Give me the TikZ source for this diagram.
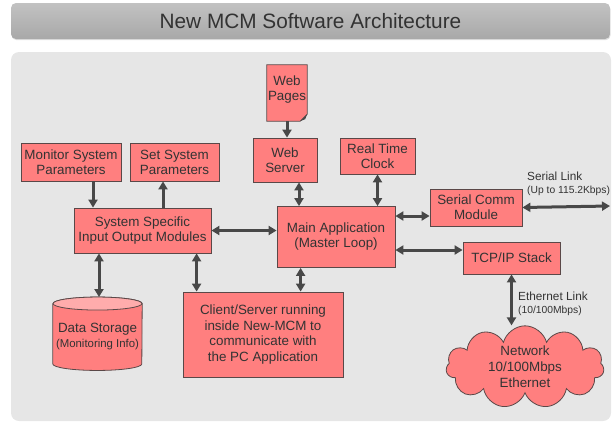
\documentclass[tikz,border=0pt]{standalone}
\usepackage{fontspec}
\setmainfont{Liberation Sans}
\usetikzlibrary{arrows.meta,shapes.symbols,shadows}

\definecolor{boxred}{HTML}{FF7F7F}
\definecolor{boxline}{HTML}{5A4848}
\definecolor{arrowgray}{HTML}{484848}
\definecolor{panelgray}{HTML}{E6E6E6}
\definecolor{textgray}{HTML}{333333}

\tikzset{
  block/.style={draw=boxline, fill=boxred, line width=0.8pt, align=center,
    text=textgray, font=\fontsize{13.4}{15}\selectfont, inner sep=0pt},
  blocktext/.style={align=center, inner sep=0pt, text=textgray, font=\fontsize{13.4}{15}\selectfont},
  link/.style={draw=arrowgray, line width=3pt,
    {Triangle[length=8pt,width=9pt]}-{Triangle[length=8pt,width=9pt]}},
  oneway/.style={draw=arrowgray, line width=3pt, -{Triangle[length=8pt,width=9pt]}},
  linklabel/.style={anchor=west, align=left, text=textgray, inner sep=0pt,
    font=\fontsize{11.8}{13}\selectfont},
}
\newcommand{\smalltxt}[1]{{\fontsize{10.3}{12}\selectfont #1}}

\begin{document}
\begin{tikzpicture}[x=1pt, y=-1pt]

\useasboundingbox (0,0) rectangle (613,423);

% Title bar and background panel
\node[minimum width=599pt, minimum height=36pt, rounded corners=5pt,
  top color=gray!48, bottom color=gray!68, drop shadow={opacity=0.25, shadow xshift=0.6pt, shadow yshift=-1.2pt},
  text=textgray, font=\fontsize{20.8}{24}\selectfont] (title) at (310.5,21) {New MCM Software Architecture};
\fill[panelgray, rounded corners=8pt] (11,52) rectangle (611,421);

% Blocks
\node[minimum width=40pt, minimum height=56pt, inner sep=0pt] (webpages) at (287,93) {};
\node[block, minimum width=64pt, minimum height=44pt] (webserver) at (285,160) {Web\\Server};
\node[block, minimum width=100pt, minimum height=38pt] (monitor) at (71,162) {Monitor System\\Parameters};
\node[block, minimum width=89pt, minimum height=38pt] (setsys) at (174.5,162) {Set System\\Parameters};
\node[block, minimum width=75pt, minimum height=36pt] (rtc) at (377.5,156) {Real Time\\Clock};
\node[block, minimum width=137pt, minimum height=45pt] (sysio) at (142.5,230.5) {System Specific\\Input Output Modules};
\node[block, minimum width=118pt, minimum height=61pt] (mainapp) at (336,237) {Main Application\\(Master Loop)};
\node[block, minimum width=92pt, minimum height=37pt] (serial) at (476,207.5) {Serial Comm\\Module};
\node[block, minimum width=97pt, minimum height=32pt] (tcp) at (511.5,258) {TCP/IP Stack};
\node[block, minimum width=160pt, minimum height=85pt, font=\fontsize{13.4}{15.5}\selectfont] (client) at (263,334.5)
  {Client/Server running\\inside New-MCM to\\communicate with\\the PC Application};
\node[minimum width=89pt, minimum height=73pt, inner sep=0pt] (storage) at (97.5,333.75) {};
\node[block, cloud, cloud puffs=11, aspect=2, minimum width=158pt, minimum height=80pt,
  font=\fontsize{13.4}{16}\selectfont] (network) at (525,367) {Network\\10/100Mbps\\Ethernet};

% Page with folded corner
\fill[boxred, draw=boxline, line width=0.8pt] (webpages.north west) -- (webpages.north east)
  -- ([yshift=7pt]webpages.south east) -- ([xshift=-7pt]webpages.south east)
  -- (webpages.south west) -- cycle;
\fill[arrowgray] ([yshift=7pt]webpages.south east) -- ([xshift=-7pt]webpages.south east)
  -- ([xshift=-2pt,yshift=2pt]webpages.south east) -- cycle;
\node[blocktext] (webpagestext) at ([yshift=3pt]webpages.center) {Web\\Pages};

% Storage drum
\fill[boxred, draw=boxline, line width=0.8pt] ([yshift=-6.5pt]storage.north west)
  -- ([yshift=6.5pt]storage.south west) arc[start angle=180, end angle=360, x radius=44.5pt, y radius=6.5pt]
  -- ([yshift=-6.5pt]storage.north east) arc[start angle=0, end angle=180, x radius=44.5pt, y radius=6.5pt];
\fill[boxred!65!white, draw=boxline, line width=0.8pt] ([yshift=-6.5pt]storage.north)
  ellipse[x radius=44.5pt, y radius=6.5pt];
\node[blocktext] (storagetext) at ([yshift=-3pt]storage.center)
  {Data Storage\\{\fontsize{11.4}{14}\selectfont(Monitoring Info)}};

% Connectors
\coordinate (seriallink) at (610,206);
\draw[oneway] ([xshift=22pt]monitor.south) -- ([xshift=22pt]monitor.south |- sysio.north);
\draw[oneway] ([xshift=-11.5pt]setsys.south |- sysio.north) -- ([xshift=-11.5pt]setsys.south);
\draw[oneway] (webpages.south) -- (webpages.south |- webserver.north);
\draw[link] ([xshift=14pt]webserver.south) -- ([xshift=14pt]webserver.south |- mainapp.north);
\draw[link] (rtc.south) -- (rtc.south |- mainapp.north);
\draw[link] (sysio.east) -- (sysio.east -| mainapp.west);
\draw[link] ([yshift=-8.5pt]serial.west -| mainapp.east) -- ([yshift=-8.5pt]serial.west);
\draw[link] (serial.east) -- (seriallink);
\draw[link] ([yshift=8pt]tcp.west -| mainapp.east) -- ([yshift=8pt]tcp.west);
\draw[link] (tcp.south) -- (tcp.south |- network.north);
\draw[link] ([xshift=1.5pt]storage.north |- sysio.south) -- ([xshift=1.5pt]storage.north);
\draw[link] ([xshift=14pt]client.north west |- sysio.south) -- ([xshift=14pt]client.north west);
\draw[link] ([xshift=24pt]mainapp.south west) -- ([xshift=24pt]mainapp.south west |- client.north);

% Link labels
\node[linklabel] (seriallabel) at (527,183.5) {Serial Link\\\smalltxt{(Up to 115.2Kbps)}};
\node[linklabel] (ethlabel) at (518,303.5) {Ethernet Link\\\smalltxt{(10/100Mbps)}};

\end{tikzpicture}
\end{document}
